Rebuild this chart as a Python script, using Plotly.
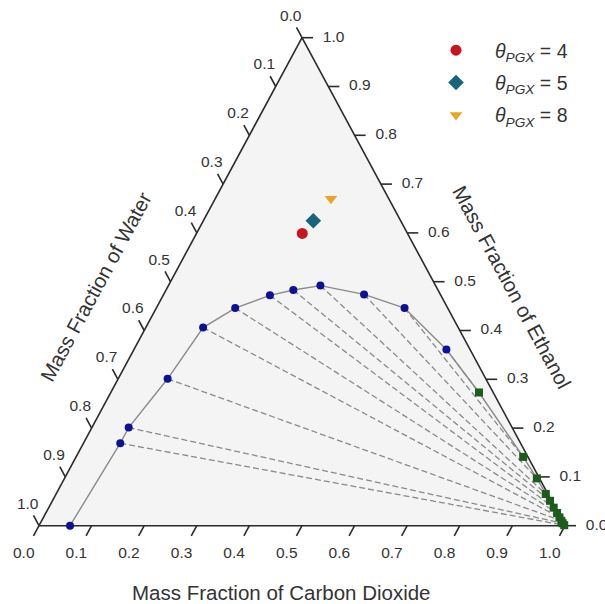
import plotly.graph_objects as go

# Water-rich branch of the binodal (mass fractions)
liq_co2 = [0.059, 0.070, 0.070, 0.094, 0.109, 0.150, 0.203, 0.242, 0.289, 0.381, 0.472, 0.594]
liq_eth = [0.000, 0.169, 0.201, 0.301, 0.406, 0.446, 0.472, 0.483, 0.492, 0.474, 0.446, 0.361]

# CO2-rich branch of the binodal (mass fractions)
vap_co2 = [0.700, 0.850, 0.898, 0.931, 0.946, 0.960, 0.972, 0.981, 0.988, 0.993, 0.998]
vap_eth = [0.273, 0.141, 0.097, 0.065, 0.051, 0.037, 0.026, 0.017, 0.010, 0.005, 0.001]

# Tie lines: (index on water-rich branch, index on CO2-rich branch)
tie_liq = [11, 10, 9, 8, 7, 6, 5, 4, 3, 2, 1]
tie_vap = [0, 1, 2, 3, 4, 5, 6, 7, 8, 9, 10]

# Overall compositions for each theta_PGX
feed_names = ["4", "5", "8"]
feed_co2 = [0.201, 0.209, 0.220]
feed_eth = [0.599, 0.625, 0.670]
feed_symbols = ["circle", "diamond", "triangle-down"]
feed_colors = ["#c8141c", "#17657a", "#eba424"]
feed_sizes = [11, 12, 11]

tick_vals = [0.0, 0.1, 0.2, 0.3, 0.4, 0.5, 0.6, 0.7, 0.8, 0.9, 1.0]
tick_text = [f"{v:.1f}" for v in tick_vals]

FONT = "Liberation Sans, Arial, sans-serif"
INK = "#2b2b2b"
TXT = "#333333"


def to_xy(co2, eth):
    """Ternary (CO2, ethanol) -> planar coordinates; water = 1 - co2 - eth."""
    return co2 + 0.5 * eth, eth


def xy_lists(pairs):
    xs, ys = [], []
    for p in pairs:
        if p is None:
            xs.append(None)
            ys.append(None)
        else:
            x, y = to_xy(*p)
            xs.append(x)
            ys.append(y)
    return xs, ys


fig = go.Figure()

# Triangle body
tx, ty = xy_lists([(0, 0), (1, 0), (0, 1), (0, 0)])
fig.add_trace(go.Scatter(x=tx, y=ty, mode="lines", fill="toself",
                         fillcolor="#f4f4f4", line=dict(color=INK, width=1.6),
                         hoverinfo="skip", showlegend=False))

# Tick marks: short extensions of the grid lines beyond each edge
TL = 0.021
tick_pts = []
for v in tick_vals:
    tick_pts += [(v, 0), (v, -TL), None]                 # CO2 (bottom)
    tick_pts += [(1 - v, v), (1 - v + TL, v), None]      # ethanol (right)
    tick_pts += [(0, 1 - v), (-TL, 1 - v + TL), None]    # water (left)
kx, ky = xy_lists(tick_pts)
fig.add_trace(go.Scatter(x=kx, y=ky, mode="lines", line=dict(color=INK, width=1.6),
                         hoverinfo="skip", showlegend=False))

# Tick labels
lab_pts = [(v, -0.058) for v in tick_vals]
lab_pts += [(1 - v + 0.06, v) for v in tick_vals]
lab_pts += [(-0.043, 1 - v + 0.043) for v in tick_vals]
lx, ly = xy_lists(lab_pts)
fig.add_trace(go.Scatter(x=lx, y=ly, mode="text", text=tick_text * 3,
                         textposition="middle center",
                         textfont=dict(family=FONT, size=15.5, color=TXT),
                         hoverinfo="skip", showlegend=False))

# Tie lines
tie_pts = []
for i, j in zip(tie_liq, tie_vap):
    tie_pts += [(liq_co2[i], liq_eth[i]), (vap_co2[j], vap_eth[j]), None]
ex, ey = xy_lists(tie_pts)
fig.add_trace(go.Scatter(x=ex, y=ey, mode="lines",
                         line=dict(color="#8a8a8a", width=1.3, dash="6px,3px"),
                         hoverinfo="skip", showlegend=False))

# Binodal curve
bx, by = xy_lists(list(zip(liq_co2 + vap_co2, liq_eth + vap_eth)))
fig.add_trace(go.Scatter(x=bx, y=by, mode="lines",
                         line=dict(color="#8a8a8a", width=1.4),
                         hoverinfo="skip", showlegend=False))

# Branch points
vx, vy = xy_lists(list(zip(vap_co2, vap_eth)))
fig.add_trace(go.Scatter(x=vx, y=vy, mode="markers",
                         marker=dict(symbol="square", size=8, color="#1d5c1d"),
                         showlegend=False))
qx, qy = xy_lists(list(zip(liq_co2, liq_eth)))
fig.add_trace(go.Scatter(x=qx, y=qy, mode="markers",
                         marker=dict(symbol="circle", size=8, color="#0d1199"),
                         showlegend=False))

# Overall compositions
for name, c, e, sym, col, sz in zip(feed_names, feed_co2, feed_eth,
                                     feed_symbols, feed_colors, feed_sizes):
    px_, py_ = to_xy(c, e)
    fig.add_trace(go.Scatter(x=[px_], y=[py_], mode="markers",
                             marker=dict(symbol=sym, size=sz, color=col),
                             name=f"<i>θ</i><sub><i>PGX</i></sub> = {name}",
                             legendgroup=name))

# Axis titles
title_font = dict(family=FONT, size=20.5, color=TXT)
fig.add_annotation(x=281 / 605, y=1 - 592 / 604, xref="paper", yref="paper",
                   xanchor="center", yanchor="middle",
                   text="Mass Fraction of Carbon Dioxide", showarrow=False,
                   font=title_font)
fig.add_annotation(x=95 / 605, y=1 - 287 / 604, xref="paper", yref="paper",
                   xanchor="center", yanchor="middle",
                   text="Mass Fraction of Water", showarrow=False, textangle=-61.7,
                   font=title_font)
fig.add_annotation(x=512.5 / 605, y=1 - 287 / 604, xref="paper", yref="paper",
                   xanchor="center", yanchor="middle",
                   text="Mass Fraction of Ethanol", showarrow=False, textangle=61.7,
                   font=title_font)

W, H = 605, 604
X0, Y0, SX, SY = 39.0, 525.7, 526.0, 488.0
fig.update_layout(
    width=W, height=H,
    margin=dict(l=0, r=0, t=0, b=0),
    paper_bgcolor="white", plot_bgcolor="white",
    xaxis=dict(visible=False, range=[-X0 / SX, (W - X0) / SX], fixedrange=True),
    yaxis=dict(visible=False, range=[(Y0 - H) / SY, Y0 / SY], fixedrange=True),
    showlegend=True,
    legend=dict(x=417 / W, y=1 - 31 / H, xanchor="left", yanchor="top",
                bgcolor="rgba(0,0,0,0)", itemwidth=68, traceorder="grouped",
                tracegroupgap=4,
                font=dict(family=FONT, size=19.5, color=TXT)),
    font=dict(family=FONT),
)

fig.write_html("out.html")
